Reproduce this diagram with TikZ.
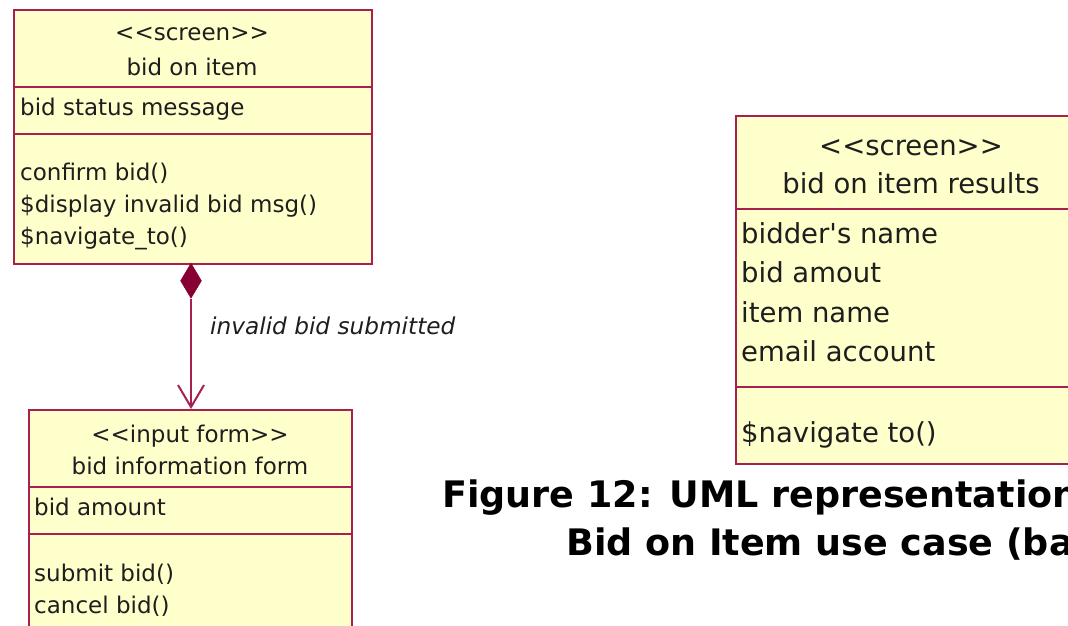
\documentclass[tikz,border=0pt]{standalone}
\usepackage{fontspec}
\setmainfont{DejaVu Sans}
\usetikzlibrary{shapes.geometric,arrows.meta}
\definecolor{umlborder}{RGB}{168,32,80}
\definecolor{umlfill}{RGB}{255,255,204}
\definecolor{umldark}{RGB}{136,0,51}
\definecolor{umltext}{RGB}{30,30,30}
% stereotype brackets kept as two plain angle signs
\newcommand{\stereo}[1]{<\kern0pt<#1>\kern0pt>}
\begin{document}
\begin{tikzpicture}[x=1pt,y=-1pt,
  classbox/.style={draw=umlborder, fill=umlfill, line width=2pt, rectangle,
    inner sep=0pt, anchor=north west},
  divider/.style={draw=umlborder, line width=2pt},
  small/.style={inner sep=0pt, text=umltext, font=\fontsize{23}{27}\selectfont},
  large/.style={inner sep=0pt, text=umltext, font=\fontsize{27.5}{33}\selectfont},
  member/.style={anchor=base west},
  title/.style={anchor=base},
  assoc/.style={draw=umlborder, line width=2pt},
  caption/.style={inner sep=0pt, anchor=base west, text=black,
    font=\fontsize{36.5}{44}\selectfont\bfseries}
]
\useasboundingbox (0,0) rectangle (1068,626);
\clip (0,0) rectangle (1068,626);

% screen: bid on item
\node[classbox, minimum width=358pt, minimum height=254pt] (bid) at (13,9) {};
\draw[divider] (13,87) -- (371,87);
\draw[divider] (13,134) -- (371,134);
\node[small, title] (bidS) at (192,41) {\stereo{screen}};
\node[small, title] (bidN) at (192,75) {bid on item};
\node[small, member] (bidA) at (20,115) {bid status message};
\node[small, member] (bidM1) at (20,180) {confirm bid()};
\node[small, member] (bidM2) at (20,212) {\$display invalid bid msg()};
\node[small, member] (bidM3) at (20,244) {\$navigate\_to()};

% input form: bid information form
\node[classbox, minimum width=323pt, minimum height=240pt] (form) at (28,409) {};
\draw[divider] (28,487) -- (351,487);
\draw[divider] (28,534) -- (351,534);
\node[small, title] (formS) at (190,442) {\stereo{input form}};
\node[small, title] (formN) at (190,474) {bid information form};
\node[small, member] (formA) at (34,515) {bid amount};
\node[small, member] (formM1) at (34,581) {submit bid()};
\node[small, member] (formM2) at (34,613) {cancel bid()};

% screen: bid on item results
\node[classbox, minimum width=360pt, minimum height=348pt] (res) at (735,115) {};
\draw[divider] (735,209) -- (1095,209);
\draw[divider] (735,387) -- (1095,387);
\node[large, title] (resS) at (911,155) {\stereo{screen}};
\node[large, title] (resN) at (911,193) {bid on item results};
\node[large, member] (resA1) at (741,243) {bidder\textquotesingle s name};
\node[large, member] (resA2) at (741,282) {bid amout};
\node[large, member] (resA3) at (741,322) {item name};
\node[large, member] (resA4) at (741,361) {email account};
\node[large, member] (resM1) at (741,442) {\$navigate to()};

% composition from the screen to the form
\node[diamond, draw=umldark, fill=umldark, line width=0.5pt, inner sep=0pt,
  minimum width=21pt, minimum height=35pt, anchor=north] (comp) at (191,263) {};
\draw[assoc, -{Straight Barb[length=22pt, width=26pt, line width=2pt]}]
  (comp.south) -- (comp.south |- form.north);
\node[small, anchor=base west, font=\fontsize{23.2}{28}\selectfont\itshape]
  (lbl) at (210,334) {invalid bid submitted};

% caption
\node[caption] (cap1) at (442,507) {Figure 12: UML representation};
\node[caption] (cap2) at (566,555) {Bid on Item use case (ba};
\end{tikzpicture}
\end{document}
